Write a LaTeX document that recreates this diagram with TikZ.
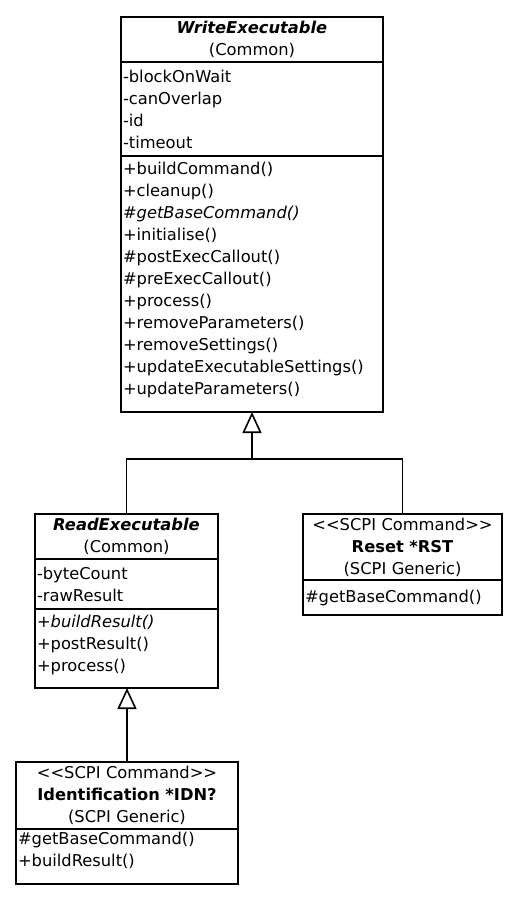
\documentclass[tikz,border=0pt]{standalone}
\usepackage{fontspec}
\newfontfamily\umlfont{DejaVu Sans}
\usetikzlibrary{positioning,arrows.meta}

\begin{document}
\begin{tikzpicture}[x=1pt,y=-1pt,line width=1.6pt,node distance=0pt,
    umlpart/.style={draw,outer sep=0pt,inner xsep=2pt,inner ysep=0pt,align=left,
      font=\umlfont\fontsize{16.3}{22}\selectfont},
    umlhead/.style={umlpart,align=center},
    inherit/.style={-{Triangle[open,length=21pt,width=19pt]}}]
    \useasboundingbox[fill=white] (0,0) rectangle (526,899);

    % WriteExecutable
    \node[umlhead,text width=258pt,minimum height=45pt,anchor=north] (we-head) at (252,17)
      {\textbf{\textit{WriteExecutable}}\\(Common)};
    \node[umlpart,text width=258pt,minimum height=94pt,below=of we-head] (we-attr)
      {-blockOnWait\\-canOverlap\\-id\\-timeout};
    \node[umlpart,text width=258pt,minimum height=256pt,text depth=231pt,below=of we-attr] (we-ops)
      {+buildCommand()\\+cleanup()\\\textit{\#getBaseCommand()}\\+initialise()\\\#postExecCallout()\\
       \#preExecCallout()\\+process()\\+removeParameters()\\+removeSettings()\\
       +updateExecutableSettings()\\+updateParameters()};

    % ReadExecutable
    \node[umlhead,text width=179pt,minimum height=45pt,anchor=north] (re-head) at (126.5,514)
      {\textbf{\textit{ReadExecutable}}\\(Common)};
    \node[umlpart,text width=179pt,minimum height=50pt,below=of re-head] (re-attr)
      {-byteCount\\-rawResult};
    \node[umlpart,text width=179pt,minimum height=79pt,text depth=54pt,below=of re-attr] (re-ops)
      {\textit{+buildResult()}\\+postResult()\\+process()};

    % Reset *RST
    \node[umlhead,text width=195pt,minimum height=66pt,anchor=north] (rst-head) at (402.5,514)
      {<<SCPI Command>>\\\textbf{Reset *RST}\\(SCPI Generic)};
    \node[umlpart,text width=195pt,minimum height=35pt,below=of rst-head] (rst-ops)
      {\#getBaseCommand()};

    % Identification *IDN?
    \node[umlhead,text width=218pt,minimum height=67pt,anchor=north] (idn-head) at (127,762)
      {<<SCPI Command>>\\\textbf{Identification *IDN?}\\(SCPI Generic)};
    \node[umlpart,text width=218pt,minimum height=55pt,text depth=36pt,below=of idn-head] (idn-ops)
      {\#getBaseCommand()\\+buildResult()};

    % generalisation
    \coordinate (fork) at (we-ops.south |- 0,459);
    \draw[inherit] (fork) -- (we-ops.south);
    \draw (re-head.north) |- (fork) -| (rst-head.north);
    \draw[inherit] (idn-head.north) -- (idn-head.north |- re-ops.south);
\end{tikzpicture}
\end{document}
